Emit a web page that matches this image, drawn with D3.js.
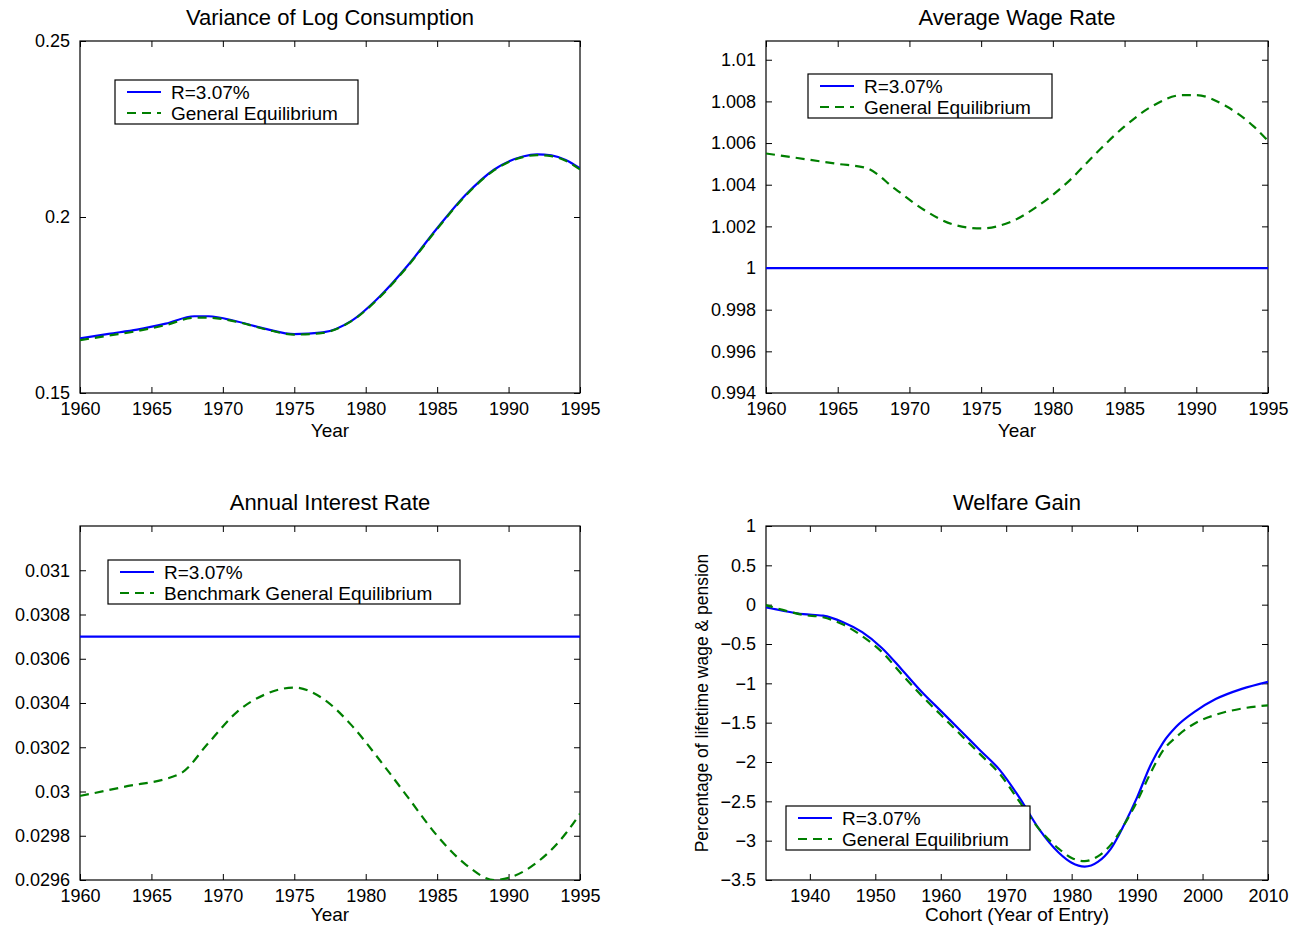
<!DOCTYPE html>
<html><head><meta charset="utf-8">
<script src="https://cdn.jsdelivr.net/npm/d3@7"></script>
<style>body{margin:0;background:#fff}svg text{font-family:"Liberation Sans",Arial,sans-serif;fill:#000}</style>
</head><body><svg id="c" width="1301" height="927"></svg>
<script>
// panel 1: variance of log consumption
var consYears = [1960,1962,1964,1966,1968,1969,1971,1973,1975,1977,1979,1981,1983,1985,1987,1989,1991,1992,1993,1994,1995];
var consR  = [.1655,.1668,.168,.1697,.1718,.1718,.1703,.1682,.1667,.1672,.1705,.1775,.1865,.1968,.2063,.2135,.2172,.2178,.2175,.2162,.2138];
var consGE = [.1650,.1663,.1676,.1693,.1714,.1714,.1702,.1681,.1666,.1671,.1704,.1773,.1863,.1966,.2061,.2133,.2170,.2176,.2173,.2160,.2135];
// panel 2: average wage rate
var wageYears = [1960,1962,1965,1967,1969,1971,1973,1975,1977,1979,1981,1983,1985,1987,1989,1990,1992,1994,1995];
var wageGE = [1.0055,1.0053,1.0050,1.0048,1.0038,1.0028,1.0021,1.0019,1.0022,1.0030,1.0041,1.0055,1.0068,1.0078,1.0083,1.0083,1.0078,1.0068,1.0061];
var wageR = 1;
// panel 3: annual interest rate
var rateYears = [1960,1963,1967,1969,1971,1973,1975,1977,1979,1981,1983,1985,1987,1989,1990,1992,1994,1995];
var rateGE = [.02998,.03002,.03008,.03022,.03036,.03044,.03047,.03042,.03030,.03014,.02997,.02980,.02967,.02960,.02961,.02968,.02981,.02990];
var rateR = 0.0307;
// panel 4: welfare gain
var cohort = [1933,1936,1939,1942,1945,1948,1951,1954,1957,1960,1963,1966,1969,1972,1975,1978,1980,1982,1984,1986,1988,1990,1992,1994,1996,1999,2002,2006,2010];
var gainR  = [-0.03,-0.08,-0.12,-0.14,-0.22,-0.35,-0.55,-0.82,-1.1,-1.35,-1.6,-1.85,-2.1,-2.45,-2.85,-3.15,-3.28,-3.33,-3.27,-3.1,-2.8,-2.45,-2.05,-1.75,-1.55,-1.35,-1.2,-1.07,-0.98];
var gainGE = [0,-0.07,-0.13,-0.16,-0.25,-0.4,-0.6,-0.88,-1.15,-1.4,-1.65,-1.9,-2.15,-2.5,-2.85,-3.1,-3.22,-3.26,-3.2,-3.05,-2.8,-2.5,-2.15,-1.85,-1.68,-1.5,-1.4,-1.32,-1.28];

var svg = d3.select("#c");

function panel(o) {
  var g = svg.append("g");
  var x = d3.scaleLinear().domain(o.xd).range([o.x0, o.x1]);
  var y = d3.scaleLinear().domain(o.yd).range([o.y1, o.y0]);
  var fmt = o.fmt || (d => String(+d.toFixed(6)).replace("-", "\u2212"));
  // ticks inward, mirrored
  g.append("g").attr("transform", "translate(0," + o.y1 + ")")
    .call(d3.axisBottom(x).tickValues(o.xt).tickSizeInner(-6).tickSizeOuter(0).tickPadding(9).tickFormat(d => d));
  g.append("g").attr("transform", "translate(0," + o.y0 + ")")
    .call(d3.axisTop(x).tickValues(o.xt).tickSizeInner(-6).tickSizeOuter(0).tickFormat(""));
  g.append("g").attr("transform", "translate(" + o.x0 + ",0)")
    .call(d3.axisLeft(y).tickValues(o.yt).tickSizeInner(-6).tickSizeOuter(0).tickPadding(10).tickFormat(fmt));
  g.append("g").attr("transform", "translate(" + o.x1 + ",0)")
    .call(d3.axisRight(y).tickValues(o.yt).tickSizeInner(-6).tickSizeOuter(0).tickFormat(""));
  g.selectAll(".domain").remove();
  g.selectAll(".tick text").attr("font-size", 18);
  g.selectAll(".tick line").attr("stroke", "#000");
  g.append("rect").attr("x", o.x0).attr("y", o.y0).attr("width", o.x1 - o.x0).attr("height", o.y1 - o.y0)
    .attr("fill", "none").attr("stroke", "#000").attr("stroke-width", 1.2);
  var clip = "clip" + o.id;
  g.append("clipPath").attr("id", clip).append("rect").attr("x", o.x0).attr("y", o.y0).attr("width", o.x1 - o.x0).attr("height", o.y1 - o.y0);
  var line = d3.line().x(d => x(d[0])).y(d => y(d[1])).curve(d3.curveMonotoneX);
  var lg = g.append("g").attr("clip-path", "url(#" + clip + ")");
  lg.append("path").datum(o.r).attr("d", line).attr("fill", "none").attr("stroke", "#0000ff").attr("stroke-width", 2.2);
  lg.append("path").datum(o.ge).attr("d", line).attr("fill", "none").attr("stroke", "#007f00").attr("stroke-width", 2.2).attr("stroke-dasharray", "9,6");
  g.append("text").attr("x", (o.x0 + o.x1) / 2).attr("y", o.y0 - 16).attr("text-anchor", "middle").attr("font-size", 22).text(o.title);
  if (o.xlab) g.append("text").attr("x", (o.x0 + o.x1) / 2).attr("y", o.y1 + o.lo).attr("text-anchor", "middle").attr("font-size", 19).text(o.xlab);
  if (o.ylab) g.append("text").attr("transform", "translate(" + (o.x0 - 58) + "," + ((o.y0 + o.y1) / 2) + ") rotate(-90)")
    .attr("text-anchor", "middle").attr("font-size", 17.5).text(o.ylab);
  var L = o.leg;
  g.append("rect").attr("x", L[0]).attr("y", L[1]).attr("width", L[2]).attr("height", 44).attr("fill", "#fff").attr("stroke", "#000").attr("stroke-width", 1.2);
  g.append("line").attr("x1", L[0] + 12).attr("x2", L[0] + 46).attr("y1", L[1] + 12).attr("y2", L[1] + 12).attr("stroke", "#0000ff").attr("stroke-width", 2.2);
  g.append("line").attr("x1", L[0] + 12).attr("x2", L[0] + 46).attr("y1", L[1] + 33).attr("y2", L[1] + 33).attr("stroke", "#007f00").attr("stroke-width", 2.2).attr("stroke-dasharray", "9,6");
  g.append("text").attr("x", L[0] + 56).attr("y", L[1] + 19).attr("font-size", 19).text("R=3.07%");
  g.append("text").attr("x", L[0] + 56).attr("y", L[1] + 40).attr("font-size", 19).text(o.geName);
}

var yrs = d3.range(1960, 1996, 5);
panel({id: 1, x0: 80, x1: 580, y0: 41, y1: 393, lo: 44, xd: [1960, 1995], yd: [0.15, 0.25], xt: yrs, yt: [0.15, 0.2, 0.25],
  r: consYears.map((d, i) => [d, consR[i]]), ge: consYears.map((d, i) => [d, consGE[i]]),
  title: "Variance of Log Consumption", xlab: "Year", leg: [115, 80, 243], geName: "General Equilibrium"});
panel({id: 2, x0: 766, x1: 1268, y0: 41, y1: 393, lo: 44, xd: [1960, 1995], yd: [0.994, 1.0109], xt: yrs, yt: d3.range(0, 9).map(i => 0.994 + i * 0.002),
  r: [[1960, wageR], [1995, wageR]], ge: wageYears.map((d, i) => [d, wageGE[i]]),
  title: "Average Wage Rate", xlab: "Year", leg: [808, 74, 244], geName: "General Equilibrium"});
panel({id: 3, x0: 80, x1: 580, y0: 526, y1: 880, lo: 41, xd: [1960, 1995], yd: [0.0296, 0.0312], xt: yrs, yt: d3.range(0, 8).map(i => 0.0296 + i * 0.0002),
  r: [[1960, rateR], [1995, rateR]], ge: rateYears.map((d, i) => [d, rateGE[i]]),
  title: "Annual Interest Rate", xlab: "Year", leg: [108, 560, 352], geName: "Benchmark General Equilibrium"});
panel({id: 4, x0: 766, x1: 1268, y0: 526, y1: 880, lo: 41, xd: [1933.3, 2010], yd: [-3.5, 1], xt: d3.range(1940, 2011, 10), yt: d3.range(-3.5, 1.01, 0.5),
  r: cohort.map((d, i) => [d, gainR[i]]), ge: cohort.map((d, i) => [d, gainGE[i]]),
  title: "Welfare Gain", xlab: "Cohort (Year of Entry)", ylab: "Percentage of lifetime wage & pension", leg: [786, 806, 244], geName: "General Equilibrium"});
</script></body></html>
